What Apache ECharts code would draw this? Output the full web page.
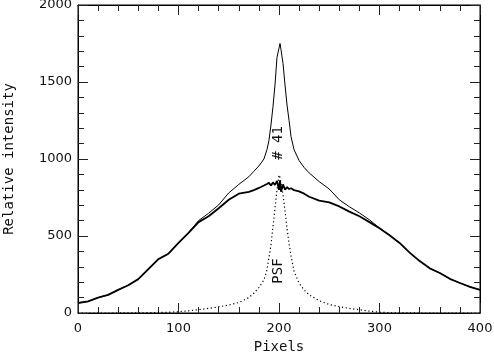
<!DOCTYPE html>
<html>
<head>
<meta charset="utf-8">
<script src="https://cdn.jsdelivr.net/npm/echarts@6/dist/echarts.min.js"></script>
<style>
  html, body { margin: 0; padding: 0; background: #fff; }
  #chart { width: 494px; height: 352px; }
</style>
</head>
<body>
<div id="chart"></div>
<script>
// pixel positions (x) shared by all three profiles
const pixels = [0, 10, 20, 30, 40, 50, 60, 70, 80, 90, 100, 110, 120, 130, 140, 150, 160, 170,
  175, 180, 185, 188, 190, 192, 194, 196, 198, 200, 201, 202, 204, 206, 208, 210, 212, 215,
  220, 225, 230, 240, 250, 260, 270, 280, 290, 300, 310, 320, 330, 340, 350, 360, 370, 380, 390, 400]

// thick profile (without the point source)
const profileThick = [65, 75, 100, 118, 150, 180, 220, 285, 350, 385, 455, 520, 590, 628, 680, 735, 775, 787,
  798, 812, 828, 838, 845, 828, 848, 832, 858, 800, 862, 788, 835, 800, 818, 805, 810, 798,
  790, 775, 755, 730, 718, 692, 658, 628, 590, 550, 505, 455, 392, 337, 290, 260, 222, 195, 170, 150]

// thin profile of object # 41
const profile41 = [65, 75, 100, 118, 150, 180, 220, 285, 350, 385, 455, 522, 600, 648, 702, 780, 835, 885,
  920, 955, 1000, 1060, 1120, 1220, 1340, 1480, 1660, 1720, 1750, 1710, 1620, 1480, 1350, 1250, 1145, 1060,
  990, 945, 910, 853, 805, 735, 690, 650, 605, 552, 505, 455, 392, 337, 290, 260, 222, 195, 170, 150]

// point spread function
const psf = [0, 0, 0, 0, 0, 1, 1, 2, 3, 5, 8, 14, 22, 30, 40, 52, 68, 100,
  128, 165, 214, 280, 360, 440, 560, 680, 800, 896, 880, 840, 770, 660, 550, 450, 370, 270,
  193, 150, 118, 80, 55, 41, 30, 21, 12, 5, 2, 1, 1, 0, 0, 0, 0, 0, 0, 0]

const chart = echarts.init(document.getElementById('chart'))

const pairs = vals => pixels.map((p, i) => [p, vals[i]])

// every axis gets the same inward ticks, like the boxed plot
const ax = extra => Object.assign({
  type: 'value',
  axisLine: { show: true, onZero: false, lineStyle: { color: '#000' } },
  axisTick: { show: true, inside: true, length: 10, lineStyle: { color: '#222' } },
  minorTick: { show: true, splitNumber: 5, length: 6, lineStyle: { color: '#222' } },
  splitLine: { show: false }
}, extra)

const lab = margin => ({
  margin, color: '#111', fontFamily: 'DejaVu Sans', fontSize: 13, formatter: v => String(v)
})

const x0 = ax({ min: 0, max: 400, interval: 100, axisLabel: lab(9) })
x0.name = 'Pixels'
x0.nameLocation = 'middle'
x0.nameGap = 23
x0.nameTextStyle = { color: '#111', fontFamily: 'DejaVu Sans Mono', fontSize: 14 }

const y0 = ax({ min: 0, max: 2000, interval: 500, axisLabel: lab(6) })
y0.name = 'Relative intensity'
y0.nameLocation = 'middle'
y0.nameGap = 62
y0.nameTextStyle = { color: '#111', fontFamily: 'DejaVu Sans Mono', fontSize: 14 }

chart.setOption({
  animation: false,
  grid: { left: 78, right: 14, top: 5, bottom: 39, outerBoundsMode: 'none', show: true, borderColor: '#000', borderWidth: 1 },
  xAxis: [x0, ax({ position: 'top', min: 0, max: 400, interval: 100, axisLabel: { show: false } })],
  yAxis: [y0, ax({ position: 'right', min: 0, max: 2000, interval: 500, alignTicks: false, axisLabel: { show: false } })],
  series: [
    {
      type: 'line', data: pairs(psf), showSymbol: false,
      lineStyle: { color: '#000', width: 1.2, type: [1.2, 2.6] }
    },
    {
      type: 'line', data: pairs(profile41), showSymbol: false,
      lineStyle: { color: '#000', width: 1 }
    },
    {
      type: 'line', data: pairs(profileThick), showSymbol: false,
      lineStyle: { color: '#000', width: 1.8 }
    }
  ],
  graphic: [
    {
      type: 'text', x: 278, y: 143, rotation: Math.PI / 2,
      style: { text: '# 41', fill: '#111', font: '14px "DejaVu Sans Mono"', align: 'center', verticalAlign: 'middle' }
    },
    {
      type: 'text', x: 278, y: 271, rotation: Math.PI / 2,
      style: { text: 'PSF', fill: '#111', font: '14px "DejaVu Sans Mono"', align: 'center', verticalAlign: 'middle' }
    }
  ]
})
</script>
</body>
</html>
